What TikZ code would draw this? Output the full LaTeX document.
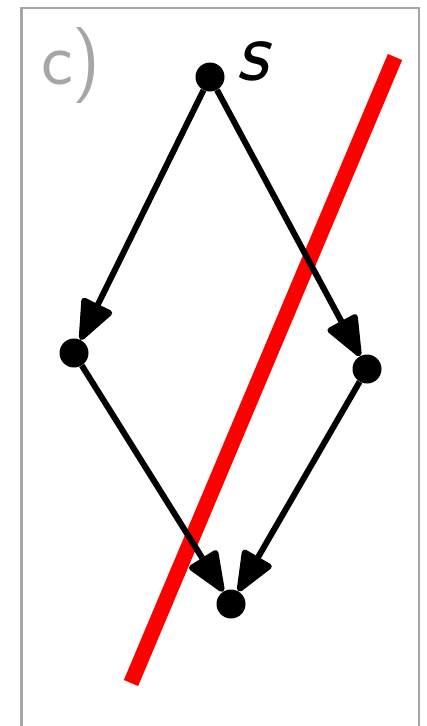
\documentclass[tikz,border=0pt]{standalone}
\usetikzlibrary{arrows.meta}
\definecolor{framegray}{HTML}{A6A6A6}
\begin{document}
\begin{tikzpicture}[x=1pt,y=-1pt,
  dot/.style={circle,fill=black,inner sep=0pt,minimum size=29pt},
  edge/.style={line width=6pt,-{Triangle[length=45pt,width=35pt,round]}},
  cutline/.style={red,line width=15.5pt}]
\useasboundingbox (0,0) rectangle (426,726);
\begin{scope}
\clip (0,0) rectangle (426,726);
\draw[framegray,line width=2.8pt] (21.3,8) rectangle (419,760);
\end{scope}
\node[framegray,font=\sffamily\fontsize{76}{80}\selectfont,anchor=base west,inner sep=0pt] (lab) at (41,84) {c)};
\coordinate (r1) at (131,683);
\coordinate (r2) at (395,57);
\draw[cutline] (r1) -- (r2);
\node[dot] (s) at (210,77) {};
\node[dot] (a) at (74,353) {};
\node[dot] (b) at (367,369) {};
\node[dot] (t) at (231,604) {};
\node[font=\sffamily\itshape\fontsize{88}{90}\selectfont,inner sep=0pt,anchor=base west] (sl) at (236,80) {s};
\draw[edge] (s) -- (a);
\draw[edge] (s) -- (b);
\draw[edge] (a) -- (t);
\draw[edge] (b) -- (t);
\end{tikzpicture}
\end{document}
